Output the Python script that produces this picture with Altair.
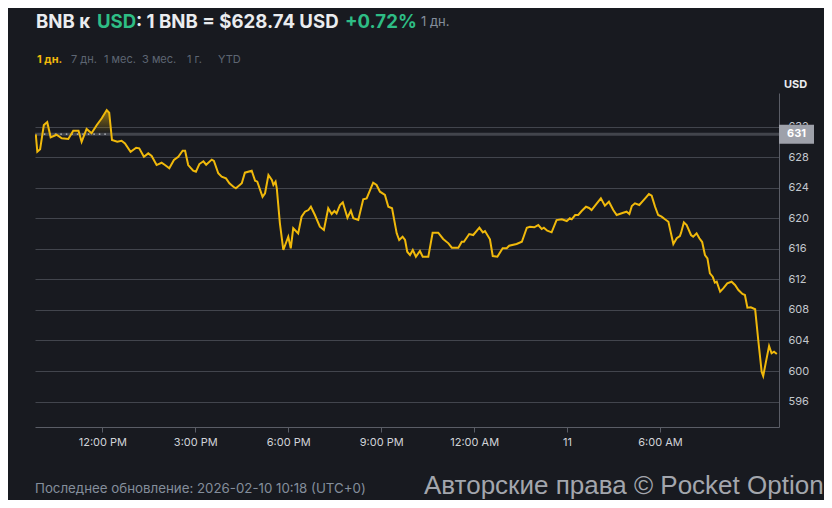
import altair as alt
import pandas as pd

# ---- data ----
hours = [-2.15, -2.10, -2.01, -1.89, -1.78, -1.67, -1.48, -1.31, -1.10, -0.94,
         -0.77, -0.67, -0.51, -0.35, -0.18, -0.02, 0.14, 0.22, 0.31, 0.48,
         0.62, 0.73, 0.91, 1.09, 1.19, 1.34, 1.48, 1.59, 1.75, 1.91,
         2.02, 2.16, 2.31, 2.45, 2.59, 2.67, 2.77, 2.93, 3.02, 3.13,
         3.26, 3.35, 3.53, 3.60, 3.74, 3.85, 3.99, 4.10, 4.23, 4.31,
         4.50, 4.60, 4.82, 4.93, 5.00, 5.17, 5.25, 5.36, 5.47, 5.52,
         5.59, 5.63, 5.73, 5.84, 6.00, 6.08, 6.16, 6.32, 6.43, 6.54,
         6.65, 6.73, 6.86, 7.02, 7.15, 7.29, 7.40, 7.49, 7.56, 7.67,
         7.76, 7.91, 8.02, 8.10, 8.26, 8.42, 8.53, 8.74, 8.85, 8.96,
         9.12, 9.23, 9.35, 9.50, 9.58, 9.69, 9.77, 9.84, 9.93, 10.02,
         10.12, 10.25, 10.34, 10.52, 10.66, 10.84, 11.00, 11.17, 11.28, 11.49,
         11.60, 11.67, 11.84, 11.97, 12.17, 12.28, 12.35, 12.51, 12.60, 12.75,
         12.92, 13.05, 13.13, 13.37, 13.54, 13.70, 13.80, 13.94, 14.07, 14.18,
         14.25, 14.36, 14.50, 14.66, 14.83, 14.99, 15.09, 15.15, 15.26, 15.36,
         15.47, 15.61, 15.71, 15.79, 15.96, 16.09, 16.22, 16.35, 16.49, 16.60,
         16.81, 16.92, 17.01, 17.09, 17.19, 17.33, 17.52, 17.64, 17.73, 17.84,
         17.94, 18.05, 18.16, 18.27, 18.43, 18.54, 18.64, 18.68, 18.77, 18.86,
         19.00, 19.07, 19.18, 19.27, 19.36, 19.45, 19.53, 19.61, 19.70, 19.77,
         19.83, 19.94, 20.04, 20.17, 20.31, 20.42, 20.53, 20.66, 20.74, 20.82,
         20.93, 21.07, 21.17, 21.28, 21.33, 21.42, 21.52, 21.60, 21.68, 21.77]

prices = [630.98, 628.70, 629.02, 632.20, 632.59, 630.59, 630.93, 630.46, 630.37, 631.45,
          631.45, 630.01, 631.68, 631.11, 632.20, 633.08, 634.16, 633.81, 630.24, 630.01,
          630.14, 629.80, 628.70, 629.23, 629.15, 628.05, 628.49, 628.14, 626.96, 627.26,
          626.96, 626.53, 627.62, 628.05, 628.83, 628.83, 626.96, 626.22, 626.09, 627.09,
          627.45, 627.00, 627.67, 627.50, 625.88, 625.43, 625.22, 624.57, 624.12, 623.91,
          624.57, 625.96, 626.22, 624.91, 624.78, 622.81, 623.26, 625.65, 625.00, 624.35,
          624.78, 623.91, 619.33, 615.84, 617.58, 616.06, 618.68, 618.02, 620.20, 620.85,
          621.07, 621.50, 620.42, 618.89, 618.46, 621.30, 620.55, 620.94, 620.64, 621.73,
          622.08, 620.07, 620.98, 619.99, 619.76, 622.47, 622.60, 624.65, 624.35, 623.47,
          623.04, 621.50, 621.30, 618.02, 617.15, 617.58, 617.15, 615.61, 615.18, 615.84,
          614.96, 615.71, 614.96, 614.96, 618.10, 618.10, 617.28, 616.71, 616.14, 616.14,
          616.92, 616.92, 617.93, 617.80, 618.76, 618.15, 618.32, 617.24, 615.05, 614.96,
          616.06, 616.06, 616.40, 616.62, 616.92, 618.76, 618.89, 618.81, 619.11, 618.59,
          618.76, 618.36, 618.15, 619.76, 619.86, 619.63, 619.99, 619.86, 620.42, 620.42,
          620.94, 621.50, 621.34, 621.07, 621.95, 622.60, 621.64, 622.16, 621.07, 620.42,
          620.72, 620.85, 620.55, 621.60, 621.95, 621.73, 622.60, 623.17, 622.94, 621.50,
          620.42, 620.20, 619.86, 619.54, 616.62, 617.37, 617.67, 618.10, 619.46, 619.11,
          617.80, 617.58, 618.02, 617.37, 616.88, 615.18, 614.75, 612.79, 612.34, 611.56,
          611.69, 610.38, 610.82, 611.48, 611.69, 611.26, 610.60, 610.08, 609.95, 608.29,
          608.34, 608.08, 604.06, 599.91, 599.35, 601.22, 603.27, 602.32, 602.53, 602.23]

base_price = 631
y_ticks = [596, 600, 604, 608, 612, 616, 620, 624, 628, 632]
x_ticks = [0, 3, 6, 9, 12, 15, 18]
x_labels = ["12:00 PM", "3:00 PM", "6:00 PM", "9:00 PM", "12:00 AM", "11", "6:00 AM"]
tabs = ["1 дн.", "7 дн.", "1 мес.", "3 мес.", "1 г.", "YTD"]
title_parts = ["BNB к ", "USD", ": 1 BNB = $628.74 USD", "+0.72%", "1 дн."]
footer = "Последнее обновление: 2026-02-10 10:18 (UTC+0)"
copyright_text = "Авторские права © Pocket Option"

# ---- style ----
BG = "#181a20"
YELLOW = "#f0b90b"
GREEN = "#2ebd85"
GRID = "#42454d"
FONT = "Inter, Roboto, sans-serif"

W, H = 744, 334
xdom = [-2.175, 21.84]
ydom = [592.67, 636.39]

df = pd.DataFrame({"h": hours, "p": prices})
xs = alt.Scale(domain=xdom, nice=False, zero=False)
ys = alt.Scale(domain=ydom, nice=False, zero=False)

label_expr = "[" + ",".join("'%s'" % s for s in x_labels) + "][datum.value/3]"
XAX = alt.Axis(values=x_ticks, labelExpr=label_expr, title=None,
               grid=False, domainColor="#5a5d66", tickColor="#5a5d66",
               tickSize=5, labelColor="#d0d3d8", labelFont=FONT,
               labelFontSize=11, labelPadding=4)
YAX = alt.Axis(orient="right", values=y_ticks, title=None,
               grid=True, gridColor=GRID, gridWidth=1,
               domainColor="#5a5d66", ticks=False,
               labelOverlap=False, labelBound=False,
               labelColor="#c3c7ce", labelFont=FONT,
               labelFontSize=11, labelPadding=9)

base = alt.Chart(df)

line = base.mark_line(color=YELLOW, strokeWidth=2, clip=True).encode(
    x=alt.X("h:Q", scale=xs, axis=XAX, title=None),
    y=alt.Y("p:Q", scale=ys, axis=YAX, title=None),
)

area = base.transform_calculate(
    pa="max(datum.p, %d)" % base_price, pb=str(base_price)
).mark_area(
    clip=True,
    color=alt.Gradient(gradient="linear",
                       stops=[alt.GradientStop(color="rgba(240,185,11,0.55)", offset=0),
                              alt.GradientStop(color="rgba(240,185,11,0.0)", offset=1)],
                       x1=0, x2=0, y1=0, y2=1)
).encode(x=alt.X("h:Q", scale=xs, axis=XAX, title=None),
         y=alt.Y("pa:Q", scale=ys, axis=YAX, title=None), y2="pb:Q")

base_df = pd.DataFrame({"p": [base_price]})
band = alt.Chart(base_df).mark_rule(color="#42454c", strokeWidth=3).encode(
    y=alt.Y("p:Q", scale=ys, axis=YAX, title=None), x=alt.value(0), x2=alt.value(W))

dots = base.transform_filter("datum.p > %d" % base_price).transform_aggregate(
    h0="min(h)", h1="max(h)"
).transform_calculate(pb=str(base_price)).mark_rule(
    color="#c8cad0", strokeWidth=1.2, strokeDash=[1.5, 4]
).encode(x=alt.X("h0:Q", scale=xs, axis=XAX, title=None), x2="h1:Q",
         y=alt.Y("pb:Q", scale=ys, axis=YAX, title=None))

box = alt.Chart(base_df).mark_rect(color="#9ea1aa", height=19).encode(
    y=alt.Y("p:Q", scale=ys, axis=YAX, title=None), x=alt.value(W), x2=alt.value(W + 35))
box_text = alt.Chart(base_df).mark_text(color="#ffffff", fontWeight="bold", fontSize=11,
                                       font=FONT, align="left", baseline="middle").encode(
    y=alt.Y("p:Q", scale=ys, axis=YAX, title=None), x=alt.value(W + 8), text=alt.Text("p:Q"))


def txt(s, x, y, size, color, weight="normal", font=FONT):
    return alt.Chart(pd.DataFrame({"t": [s]})).mark_text(
        align="left", baseline="middle", fontSize=size, color=color,
        fontWeight=weight, font=font).encode(
        text="t:N", x=alt.value(x), y=alt.value(y))


title_x = [1, 62, 101, 310, 386]
title_col = ["#eaecef", GREEN, "#eaecef", GREEN, "#848e9c"]
title_size = [18.6, 18.6, 18.6, 18.6, 13]
title_w = ["bold", "bold", "bold", "bold", "normal"]
texts = [txt(s, x, -71, sz, c, w) for s, x, sz, c, w in zip(title_parts, title_x, title_size, title_col, title_w)]
tab_x = [2, 36, 69, 107, 152, 183]
for i, (s, x) in enumerate(zip(tabs, tab_x)):
    texts.append(txt(s, x, -33, 11, YELLOW if i == 0 else "#5e6673", "bold" if i == 0 else "normal"))
texts.append(txt("USD", W + 5, -8, 11, "#eaecef", "bold"))
texts.append(txt(footer, 0, 396, 13.3, "#848e9c"))
texts.append(txt(copyright_text, 389, 393, 26, "#a3a6ad", "normal", "Liberation Sans, Arial, sans-serif"))

chart = alt.layer(band, area, dots, line, box, box_text, *texts).properties(
    width=W, height=H,
    background=BG,
    padding={"left": 27, "top": 85, "right": 45, "bottom": 73},
    autosize=alt.AutoSizeParams(type="none"),
).configure_view(stroke=None).configure_axis(labelOverlap=False)

chart.save("out.html", embed_options={"renderer": "svg", "actions": False})
